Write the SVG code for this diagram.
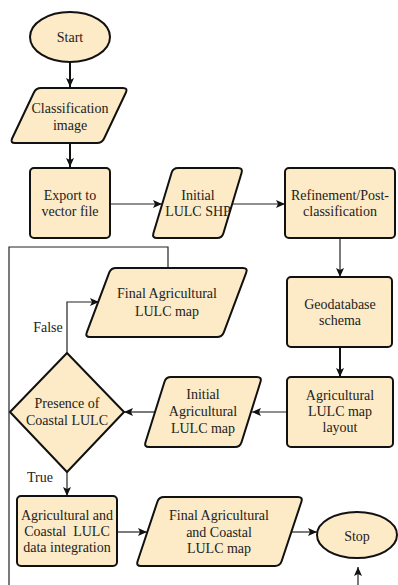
<svg xmlns="http://www.w3.org/2000/svg" width="398" height="585" viewBox="0 0 398 585">
<defs>
<marker id="ah" markerUnits="userSpaceOnUse" markerWidth="10" markerHeight="8" refX="9" refY="4" orient="auto">
<path d="M0,0 L9,4 L0,8 L2,4 Z" fill="#111"/>
</marker>
<style>
.n{fill:#FCEBC6;stroke:#111;stroke-width:2;stroke-linejoin:round}
.t{font-family:"Liberation Serif","Times New Roman",serif;font-size:14px;fill:#222;text-anchor:middle}
.c{fill:none;stroke:#222;stroke-width:1.2}
.cb{fill:none;stroke:#111;stroke-width:2}
.a{marker-end:url(#ah)}
</style>
</defs>
<rect width="398" height="585" fill="#fff"/>
<g id="connectors">
<path class="cb a" d="M70,62 V87"/>
<path class="cb a" d="M70,143 V167"/>
<path class="c a" d="M110,204 H162"/>
<path class="c a" d="M232,204 H285"/>
<path class="c a" d="M340,238 V277"/>
<path class="cb a" d="M340,347 V377"/>
<path class="c a" d="M287,412 H252"/>
<path class="c a" d="M155,412 H124"/>
<path class="c a" d="M67,353 V302 H99"/>
<path class="c a" d="M67,472 V496"/>
<path class="c a" d="M117,532 H147"/>
<path class="c a" d="M291,532 H317"/>
<path class="c" d="M168,268 V247 H9 V590"/>
<path class="c a" d="M358,590 V567"/>
</g>
<g id="start">
<ellipse class="n" cx="70" cy="37" rx="40" ry="25"/>
<text class="t" font-family="Liberation Serif" x="70" y="42">Start</text>
</g>
<g id="classification-image">
<path class="n" d="M41,88 L123,88 Q128,88 125.9,92.5 L104.1,138.5 Q102,143 97,143 L15,143 Q10,143 12.1,138.5 L33.9,92.5 Q36,88 41,88 Z"/>
<text class="t" font-family="Liberation Serif" x="70" y="113">Classification</text>
<text class="t" font-family="Liberation Serif" x="70" y="130">image</text>
</g>
<g id="export">
<rect class="n" x="30" y="168" width="80" height="70" rx="4"/>
<text class="t" font-family="Liberation Serif" x="70" y="200">Export to</text>
<text class="t" font-family="Liberation Serif" x="70" y="216">vector file</text>
</g>
<g id="initial-lulc-shp">
<path class="n" d="M178,168 L238,168 Q243,168 241.6,172.8 L223.4,233.2 Q222,238 217,238 L157,238 Q152,238 153.4,233.2 L171.6,172.8 Q173,168 178,168 Z"/>
<text class="t" font-family="Liberation Serif" x="198" y="200">Initial</text>
<text class="t" font-family="Liberation Serif" x="198" y="216">LULC SHP</text>
</g>
<g id="refinement">
<rect class="n" x="285" y="168" width="110" height="70" rx="4"/>
<text class="t" font-family="Liberation Serif" x="340" y="200">Refinement/Post-</text>
<text class="t" font-family="Liberation Serif" x="340" y="216">classification</text>
</g>
<g id="geodatabase">
<rect class="n" x="287" y="277" width="105" height="70" rx="4"/>
<text class="t" font-family="Liberation Serif" x="340" y="309">Geodatabase</text>
<text class="t" font-family="Liberation Serif" x="340" y="325">schema</text>
</g>
<g id="layout">
<rect class="n" x="287" y="377" width="106" height="70" rx="4"/>
<text class="t" font-family="Liberation Serif" x="340" y="400">Agricultural</text>
<text class="t" font-family="Liberation Serif" x="340" y="416">LULC map</text>
<text class="t" font-family="Liberation Serif" x="340" y="432">layout</text>
</g>
<g id="initial-agri-map">
<path class="n" d="M171,377 L257,377 Q262,377 260.5,381.8 L241.5,442.2 Q240,447 235,447 L149,447 Q144,447 145.5,442.2 L164.5,381.8 Q166,377 171,377 Z"/>
<text class="t" font-family="Liberation Serif" x="203" y="399">Initial</text>
<text class="t" font-family="Liberation Serif" x="203" y="416">Agricultural</text>
<text class="t" font-family="Liberation Serif" x="203" y="433">LULC map</text>
</g>
<g id="decision">
<path class="n" d="M67,353 L124,412 L67,472 L10,412 Z"/>
<text class="t" font-family="Liberation Serif" x="67" y="408">Presence of</text>
<text class="t" font-family="Liberation Serif" x="67" y="425">Coastal LULC</text>
<text class="t" font-family="Liberation Serif" x="48" y="332">False</text>
<text class="t" font-family="Liberation Serif" x="40" y="482">True</text>
</g>
<g id="final-agri-map">
<path class="n" d="M116,268 L243,268 Q248,268 246.2,272.7 L223.8,332.3 Q222,337 217,337 L90,337 Q85,337 86.8,332.3 L109.2,272.7 Q111,268 116,268 Z"/>
<text class="t" font-family="Liberation Serif" x="167" y="298">Final Agricultural</text>
<text class="t" font-family="Liberation Serif" x="167" y="316">LULC map</text>
</g>
<g id="integration">
<rect class="n" x="17" y="496" width="100" height="70" rx="4"/>
<text class="t" font-family="Liberation Serif" x="67" y="520">Agricultural and</text>
<text class="t" font-family="Liberation Serif" x="67" y="536" xml:space="preserve">Coastal  LULC</text>
<text class="t" font-family="Liberation Serif" x="67" y="552">data integration</text>
</g>
<g id="final-agri-coastal-map">
<path class="n" d="M164,497 L298,497 Q303,497 301.4,501.7 L281.6,561.3 Q280,566 275,566 L141,566 Q136,566 137.6,561.3 L157.4,501.7 Q159,497 164,497 Z"/>
<text class="t" font-family="Liberation Serif" x="219" y="520">Final Agricultural</text>
<text class="t" font-family="Liberation Serif" x="219" y="537">and Coastal</text>
<text class="t" font-family="Liberation Serif" x="219" y="553">LULC map</text>
</g>
<g id="stop">
<ellipse class="n" cx="357" cy="535" rx="40" ry="23"/>
<text class="t" font-family="Liberation Serif" x="357" y="541">Stop</text>
</g>
</svg>
